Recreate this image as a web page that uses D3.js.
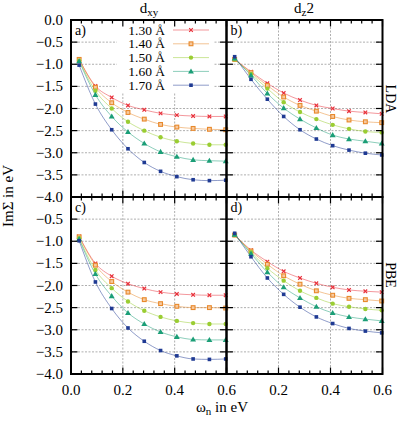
<!DOCTYPE html>
<html><head><meta charset="utf-8">
<script src="https://cdn.jsdelivr.net/npm/d3@7"></script>
<style>
body{margin:0;background:#fff;}
text{font-family:"Liberation Serif","Times New Roman",serif;fill:#000;}
</style></head>
<body>
<svg id="c" width="399" height="422"></svg>
<script>
// Matsubara frequencies (eV)
const omega = [0.0314,0.0942,0.1571,0.2199,0.2827,0.3456,0.4084,0.4712,0.5341,0.5969];
const distances = ["1.30 Å","1.40 Å","1.50 Å","1.60 Å","1.70 Å"];
const xTicks = [0.0,0.2,0.4,0.6];
const yTicks = [0.0,-0.5,-1.0,-1.5,-2.0,-2.5,-3.0,-3.5,-4.0];

// a) dxy, LDA
const ldaDxy = [
 [-0.89,-1.49,-1.75,-1.93,-2.03,-2.11,-2.15,-2.17,-2.18,-2.18],
 [-0.89,-1.52,-1.87,-2.09,-2.24,-2.36,-2.42,-2.45,-2.47,-2.48],
 [-0.92,-1.60,-2.00,-2.30,-2.50,-2.65,-2.74,-2.79,-2.82,-2.82],
 [-0.93,-1.69,-2.18,-2.53,-2.79,-2.98,-3.09,-3.16,-3.18,-3.19],
 [-1.02,-1.90,-2.48,-2.91,-3.22,-3.42,-3.54,-3.61,-3.63,-3.62]];
// b) dz2, LDA
const ldaDz2 = [
 [-0.89,-1.17,-1.43,-1.65,-1.81,-1.93,-2.00,-2.06,-2.09,-2.12],
 [-0.89,-1.19,-1.48,-1.74,-1.93,-2.06,-2.18,-2.26,-2.30,-2.32],
 [-0.89,-1.22,-1.55,-1.86,-2.08,-2.24,-2.37,-2.46,-2.52,-2.54],
 [-0.87,-1.25,-1.66,-1.99,-2.24,-2.44,-2.60,-2.69,-2.74,-2.79],
 [-0.83,-1.34,-1.79,-2.18,-2.48,-2.69,-2.84,-2.94,-3.01,-3.05]];
// c) dxy, PBE
const pbeDxy = [
 [-0.89,-1.50,-1.79,-1.96,-2.07,-2.15,-2.19,-2.21,-2.22,-2.22],
 [-0.90,-1.54,-1.91,-2.15,-2.32,-2.41,-2.47,-2.50,-2.50,-2.51],
 [-0.93,-1.65,-2.06,-2.36,-2.57,-2.71,-2.80,-2.85,-2.87,-2.87],
 [-0.95,-1.74,-2.24,-2.62,-2.87,-3.05,-3.16,-3.22,-3.23,-3.23],
 [-0.99,-1.92,-2.52,-2.96,-3.26,-3.47,-3.59,-3.66,-3.67,-3.66]];
// d) dz2, PBE
const pbeDz2 = [
 [-0.86,-1.20,-1.46,-1.68,-1.83,-1.95,-2.04,-2.10,-2.13,-2.15],
 [-0.86,-1.22,-1.52,-1.78,-1.97,-2.12,-2.22,-2.29,-2.32,-2.35],
 [-0.86,-1.25,-1.61,-1.89,-2.12,-2.28,-2.41,-2.48,-2.53,-2.56],
 [-0.85,-1.28,-1.70,-2.04,-2.28,-2.48,-2.62,-2.71,-2.76,-2.80],
 [-0.82,-1.35,-1.83,-2.20,-2.49,-2.71,-2.86,-2.97,-3.03,-3.07]];

const colors = ["#e8303a","#e8892b","#9acd32","#1b9e77","#1f3a93"];
const markers = ["cross","osquare","circle","triangle","square"];

const svg = d3.select("#c");
const X0=71, XM=226.5, X1=382.5, Y0=20, YM=197, Y1=374;

const panels = [
 {data:ldaDxy, xr:[X0,XM], yr:[Y0,YM], label:"a)", legend:true},
 {data:ldaDz2, xr:[XM,X1], yr:[Y0,YM], label:"b)"},
 {data:pbeDxy, xr:[X0,XM], yr:[YM,Y1], label:"c)"},
 {data:pbeDz2, xr:[XM,X1], yr:[YM,Y1], label:"d)"}];

function drawMarker(g, type, x, y, col){
  if(type==="cross"){
    const s=1.8;
    g.append("path").attr("d",`M${x-s},${y-s}L${x+s},${y+s}M${x-s},${y+s}L${x+s},${y-s}`)
     .attr("stroke",col).attr("stroke-width",1.2).attr("fill","none");
  } else if(type==="osquare"){
    g.append("rect").attr("x",x-1.9).attr("y",y-1.9).attr("width",3.8).attr("height",3.8)
     .attr("fill","#f6c9a0").attr("stroke",col).attr("stroke-width",1.1);
  } else if(type==="circle"){
    g.append("circle").attr("cx",x).attr("cy",y).attr("r",2.2).attr("fill",col);
  } else if(type==="triangle"){
    g.append("path").attr("d",d3.symbol(d3.symbolTriangle,15)()).attr("transform",`translate(${x},${y+0.4})`).attr("fill",col);
  } else {
    g.append("rect").attr("x",x-1.8).attr("y",y-1.8).attr("width",3.6).attr("height",3.6).attr("fill",col);
  }
}

panels.forEach((p,pi)=>{
  const x = d3.scaleLinear().domain([0,0.6]).range(p.xr);
  const y = d3.scaleLinear().domain([0,-4]).range(p.yr);
  const g = svg.append("g");
  // grid
  const grid = g.append("g").attr("stroke","#9a9a9a").attr("stroke-width",0.8).attr("stroke-dasharray","2,1.5");
  yTicks.slice(1,-1).forEach(t=>grid.append("line").attr("x1",p.xr[0]).attr("x2",p.xr[1]).attr("y1",y(t)).attr("y2",y(t)));
  xTicks.slice(1,-1).forEach(t=>grid.append("line").attr("y1",p.yr[0]).attr("y2",p.yr[1]).attr("x1",x(t)).attr("x2",x(t)));
  // legend box background
  if(p.legend){
    g.append("rect").attr("x",117).attr("y",Y0+1).attr("width",96).attr("height",71).attr("fill","#fff");
  }
  // data
  const line = d3.line().x((d,i)=>x(omega[i])).y(d=>y(d)).curve(d3.curveMonotoneX);
  p.data.forEach((s,si)=>{
    g.append("path").datum(s).attr("d",line).attr("fill","none").attr("stroke",colors[si])
      .attr("stroke-opacity",0.5).attr("stroke-width",1);
  });
  p.data.forEach((s,si)=>{
    s.forEach((v,i)=>drawMarker(g,markers[si],x(omega[i]),y(v),colors[si]));
  });
  // ticks
  const tk = g.append("g").attr("stroke","#000").attr("stroke-width",1.2);
  for(let k=0;k<=15;k++){
    const xv = k*0.04, px = x(xv);
    const len = (k%5===0)?6.5:3.5;
    tk.append("line").attr("x1",px).attr("x2",px).attr("y1",p.yr[0]).attr("y2",p.yr[0]+len);
    tk.append("line").attr("x1",px).attr("x2",px).attr("y1",p.yr[1]).attr("y2",p.yr[1]-len);
  }
  yTicks.forEach(t=>{
    tk.append("line").attr("x1",p.xr[0]).attr("x2",p.xr[0]+6.5).attr("y1",y(t)).attr("y2",y(t));
    tk.append("line").attr("x1",p.xr[1]).attr("x2",p.xr[1]-6.5).attr("y1",y(t)).attr("y2",y(t));
  });
  // frame
  g.append("rect").attr("x",p.xr[0]).attr("y",p.yr[0]).attr("width",p.xr[1]-p.xr[0]).attr("height",p.yr[1]-p.yr[0])
    .attr("fill","none").attr("stroke","#000").attr("stroke-width",2);
  // panel label
  g.append("text").attr("x",p.xr[0]+4).attr("y",p.yr[0]+15).attr("font-size",14).text(p.label);
  // y tick labels on left panels
  if(p.xr[0]===X0){
    const labs = (p.yr[0]===Y0)?yTicks:yTicks.slice(1);
    labs.forEach(t=>{
      g.append("text").attr("x",63).attr("y",y(t)+5).attr("text-anchor","end").attr("font-size",15)
        .text(d3.format(".1f")(t).replace("-","−"));
    });
  }
  // x tick labels on bottom panels
  if(p.yr[1]===Y1){
    const labs = (p.xr[0]===X0)?xTicks:xTicks.slice(1);
    labs.forEach(t=>{
      g.append("text").attr("x",x(t)).attr("y",395).attr("text-anchor","middle").attr("font-size",15)
        .text(d3.format(".1f")(t));
    });
  }
  // legend
  if(p.legend){
    distances.forEach((d,i)=>{
      const ly = 30 + i*13.8;
      g.append("text").attr("x",165).attr("y",ly+4.5).attr("text-anchor","end").attr("font-size",13.5).text(d);
      g.append("line").attr("x1",173).attr("x2",209).attr("y1",ly).attr("y2",ly)
        .attr("stroke",colors[i]).attr("stroke-opacity",0.5).attr("stroke-width",1);
      drawMarker(g,markers[i],191,ly,colors[i]);
    });
  }
});

// titles
const t1 = svg.append("text").attr("x",149).attr("y",13).attr("text-anchor","middle").attr("font-size",15);
t1.append("tspan").text("d");
t1.append("tspan").attr("font-size",11).attr("dy",3).text("xy");
const t2 = svg.append("text").attr("x",304).attr("y",13).attr("text-anchor","middle").attr("font-size",15);
t2.append("tspan").text("d");
t2.append("tspan").attr("font-size",11).attr("dy",3).text("z");
t2.append("tspan").attr("dy",-3).text("2");

svg.append("text").attr("transform","translate(386,99) rotate(90)").attr("text-anchor","middle").attr("font-size",14).text("LDA");
svg.append("text").attr("transform","translate(386,275) rotate(90)").attr("text-anchor","middle").attr("font-size",14).text("PBE");

svg.append("text").attr("transform","translate(13,196) rotate(-90)").attr("text-anchor","middle").attr("font-size",15).text("ImΣ in eV");

const xl = svg.append("text").attr("x",222).attr("y",412).attr("text-anchor","middle").attr("font-size",15);
xl.append("tspan").text("ω");
xl.append("tspan").attr("font-size",11).attr("dy",3).text("n");
xl.append("tspan").attr("dy",-3).text(" in eV");
</script>
</body></html>
